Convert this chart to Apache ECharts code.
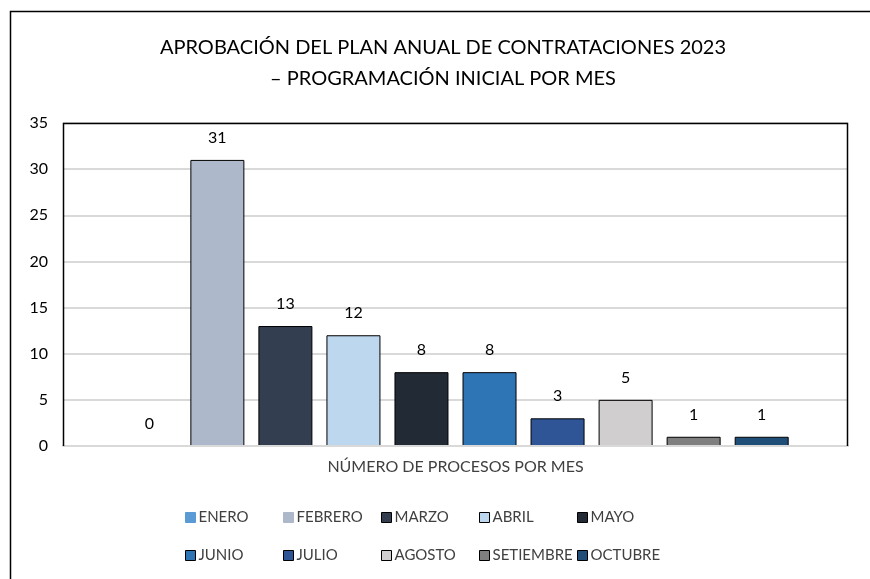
<!DOCTYPE html>
<html>
<head>
<meta charset="utf-8">
<script src="https://cdn.jsdelivr.net/npm/echarts@6/dist/echarts.min.js"></script>
<style>
  html, body { margin: 0; padding: 0; background: #fff; }
  #chart { width: 870px; height: 579px; }
</style>
</head>
<body>
<div id="chart"></div>
<script>
// data
const category = ['NÚMERO DE PROCESOS POR MES'];
const months = ['ENERO', 'FEBRERO', 'MARZO', 'ABRIL', 'MAYO', 'JUNIO', 'JULIO', 'AGOSTO', 'SETIEMBRE', 'OCTUBRE'];
const counts = [0, 31, 13, 12, 8, 8, 3, 5, 1, 1];
const monthColors = ['#5B9BD5', '#ADB9CA', '#333F50', '#BDD7EE', '#222A35', '#2E75B6', '#2F5597', '#D0CECE', '#7F7F7F', '#1F4E79'];
const yTicks = [0, 5, 10, 15, 20, 25, 30, 35];

const font = 'Lato, "Open Sans", sans-serif';

const chart = echarts.init(document.getElementById('chart'));

const series = months.map((m, i) => ({
  name: m,
  type: 'bar',
  barWidth: 54,
  barGap: '26%',
  data: [counts[i]],
  itemStyle: {
    color: monthColors[i],
    borderColor: '#000',
    borderWidth: counts[i] > 0 ? 1 : 0
  },
  label: {
    show: true,
    position: 'top',
    distance: 14,
    color: '#000',
    fontSize: 16,
    fontFamily: font
  }
}));

// legend laid out in fixed columns like the original
const legends = months.map((m, i) => ({
  data: [{
    name: m,
    itemStyle: { borderColor: i < 2 ? monthColors[i] : '#000', borderWidth: 1 }
  }],
  left: 185 + (i % 5) * 98,
  top: i < 5 ? 510 : 548,
  icon: 'rect',
  itemWidth: 10,
  itemHeight: 10,
  padding: 0,
  selectedMode: false,
  textStyle: { color: '#404040', fontSize: 15, fontFamily: font, padding: [0, 0, 0, -2] }
}));

chart.setOption({
  animation: false,
  title: {
    text: 'APROBACIÓN DEL PLAN ANUAL DE CONTRATACIONES 2023\n– PROGRAMACIÓN INICIAL POR MES',
    left: 438,
    textAlign: 'center',
    top: 27,
    textStyle: {
      color: '#000',
      fontSize: 20,
      fontWeight: 'normal',
      fontFamily: font,
      lineHeight: 31
    }
  },
  legend: legends,
  graphic: [{
    type: 'polyline',
    shape: { points: [[10.5, 590], [10.5, 11.5], [880, 11.5]] },
    style: { stroke: '#000', lineWidth: 1.5, fill: null },
    silent: true
  }, {
    // dark frame on top, left and right of the plot area
    type: 'polyline',
    shape: { points: [[63.5, 446], [63.5, 123.5], [847.5, 123.5], [847.5, 446]] },
    style: { stroke: '#000', lineWidth: 1.5, fill: null },
    silent: true,
    z: 10
  }],
  grid: {
    left: 63,
    top: 123,
    right: 22,
    bottom: 133
  },
  xAxis: {
    type: 'category',
    data: category,
    axisTick: { show: false },
    axisLabel: {
      show: true,
      margin: 13,
      color: '#404040',
      fontSize: 16,
      fontFamily: font
    },
    axisLine: { show: true, lineStyle: { color: '#D9D9D9', width: 2 } },
    z: 5
  },
  yAxis: {
    type: 'value',
    min: yTicks[0],
    max: yTicks[yTicks.length - 1],
    interval: 5,
    axisLine: { show: false },
    axisTick: { show: false },
    axisLabel: {
      color: '#000',
      fontSize: 16,
      fontFamily: font,
      margin: 15
    },
    splitLine: { lineStyle: { color: '#D9D9D9', width: 2 } }
  },
  series: series
});
</script>
</body>
</html>
